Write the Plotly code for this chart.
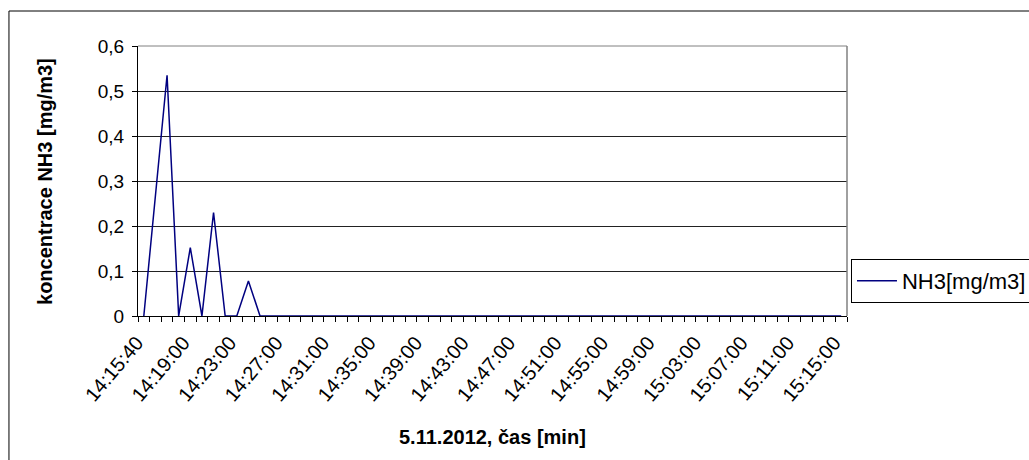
import plotly.graph_objects as go

# Sample times (category labels) and NH3 concentration readings
times = ["14:15:40"] + [f"{14 + (16 + m) // 60}:{(16 + m) % 60:02d}:00" for m in range(60)]
nh3 = [0, 0.27, 0.535, 0, 0.152, 0, 0.230, 0, 0, 0.078, 0] + [0] * 50

label_step = 4
idx = list(range(len(times)))

fig = go.Figure()
fig.add_trace(go.Scatter(
    x=idx, y=nh3, mode="lines", name="NH3[mg/m3]",
    line=dict(color="#000080", width=1.5),
))

font_family = "Liberation Sans, Arial, sans-serif"

fig.update_layout(
    width=1029, height=460,
    margin=dict(l=138, r=182, t=46, b=144, autoexpand=False),
    paper_bgcolor="white", plot_bgcolor="white",
    separators=", ",
    font=dict(family=font_family, size=19, color="black"),
    showlegend=True,
    legend=dict(
        x=1.0056, xanchor="left", y=0.13, yanchor="middle",
        bordercolor="black", borderwidth=1, bgcolor="white",
        font=dict(size=22),
        tracegroupgap=0, itemwidth=40,
    ),
    xaxis=dict(
        range=[-0.5, len(times) - 0.5],
        tickmode="array",
        tickvals=idx[::label_step],
        ticktext=times[::label_step],
        tickangle=-50,
        ticklabelshift=-7, ticklabelstandoff=6,
        ticks="", showgrid=False, zeroline=False,
        showline=True, linecolor="black", linewidth=1,
        minor=dict(tickmode="linear", tick0=-0.5, dtick=1,
                   ticks="outside", ticklen=5, tickcolor="black", showgrid=False),
        tickfont=dict(size=20),
    ),
    yaxis=dict(
        range=[0, 0.6], dtick=0.1, tick0=0,
        ticks="outside", ticklen=5, tickcolor="black",
        ticklabelstandoff=4,
        showgrid=True, gridcolor="#222", gridwidth=1,
        zeroline=False,
        showline=True, linecolor="black", linewidth=1,
        tickfont=dict(size=19),
    ),
)

# plot-area border on the right/top in grey
fig.add_shape(type="line", xref="paper", yref="paper", x0=1, x1=1, y0=0, y1=1,
              line=dict(color="#808080", width=1.5))
fig.add_shape(type="line", xref="paper", yref="paper", x0=0, x1=1, y0=1, y1=1,
              line=dict(color="#808080", width=1))
# outer chart frame
fig.add_shape(type="rect", xref="paper", yref="paper",
              x0=-0.182, x1=1.3, y0=-0.56, y1=1.1296,
              line=dict(color="black", width=1), layer="below")

fig.add_annotation(text="<b>koncentrace NH3 [mg/m3]</b>", textangle=-90,
                   xref="paper", yref="paper", x=-0.1312, y=0.5,
                   xanchor="center", yanchor="middle",
                   showarrow=False, font=dict(size=20))
fig.add_annotation(text="<b>5.11.2012, čas [min]</b>",
                   xref="paper", yref="paper", x=0.5, y=-0.448,
                   xanchor="center", yanchor="middle",
                   showarrow=False, font=dict(size=20))

fig.write_html("out.html")
